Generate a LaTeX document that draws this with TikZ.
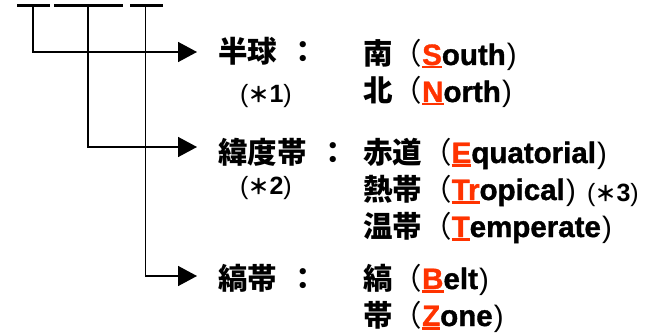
\documentclass[tikz,border=0pt]{standalone}
\usepackage{fontspec}
\setmainfont{Noto Sans CJK JP}
\newfontfamily\lat{Liberation Sans}[FakeBold=1.2]
\newfontfamily\latn{Liberation Sans}
\usetikzlibrary{arrows.meta}
\definecolor{redc}{RGB}{255,51,0}
\newcommand\rl[1]{{\color{redc}\setbox0\hbox{#1}\rlap{\rule[-3.5pt]{\wd0}{2.2pt}}\box0}}
\newcommand\entry[3]{#1{\mdseries （}{\lat\rl{#2}#3}{\latn\mdseries\kern0.04em)}}
\newcommand\notetxt[1]{{\latn\mdseries (}{\fontsize{21}{21}\selectfont\bfseries ＊}{\latn\bfseries #1}{\latn\mdseries )}}
\tikzset{
  lbl/.style={anchor=base west, inner sep=0pt, font=\fontsize{29.5}{29.5}\selectfont\bfseries},
  note/.style={anchor=base west, inner sep=0pt, font=\fontsize{25}{25}\selectfont},
  arr/.style={line width=1.6pt, -{Triangle[length=19pt,width=20pt]}},
  bar/.style={line width=3.6pt}
}
\begin{document}
\begin{tikzpicture}[x=1pt,y=-1pt]
\useasboundingbox (0,0) rectangle (653,334);
% top bars
\coordinate (b1a) at (17,5.5); \coordinate (b1b) at (50,5.5);
\coordinate (b2a) at (54,5.5); \coordinate (b2b) at (123,5.5);
\coordinate (b3a) at (130,5.5); \coordinate (b3b) at (163,5.5);
\draw[bar] (b1a) -- (b1b);
\draw[bar] (b2a) -- (b2b);
\draw[bar] (b3a) -- (b3b);
\coordinate (v1) at (33,7); \coordinate (v2) at (88,7); \coordinate (v3) at (145.5,7);
\coordinate (t1) at (197,52); \coordinate (t2) at (197,147); \coordinate (t3) at (197,276);
% left labels
\node[lbl] (hk) at (218,63) {半球};
\node[lbl] (hkc) at (288,63) {：};
\node[note] (n1) at (240,103) {\notetxt{1}};
\node[lbl] (id) at (218,163) {緯度帯};
\node[lbl] (idc) at (318,163) {：};
\node[note] (n2) at (240,194) {\notetxt{2}};
\node[lbl] (sb) at (218,289) {縞帯};
\node[lbl] (sbc) at (288,289) {：};
% connectors
\draw[arr] (v1) |- (t1);
\draw[arr] (v2) |- (t2);
\draw[arr] (v3) |- (t3);
% right column
\node[lbl] (r1) at (363,65) {\entry{南}{S}{outh}};
\node[lbl] (r2) at (363,102) {\entry{北}{N}{orth}};
\node[lbl] (r3) at (363,163) {\entry{赤道}{E}{quatorial}};
\node[lbl] (r4) at (363,200) {\entry{熱帯}{Tr}{opical}};
\node[note] (n3) at (587,201) {\notetxt{3}};
\node[lbl] (r5) at (363,237) {\entry{温帯}{T}{emperate}};
\node[lbl] (r6) at (363,289) {\entry{縞}{B}{elt}};
\node[lbl] (r7) at (363,326) {\entry{帯}{Z}{one}};
\end{tikzpicture}
\end{document}
